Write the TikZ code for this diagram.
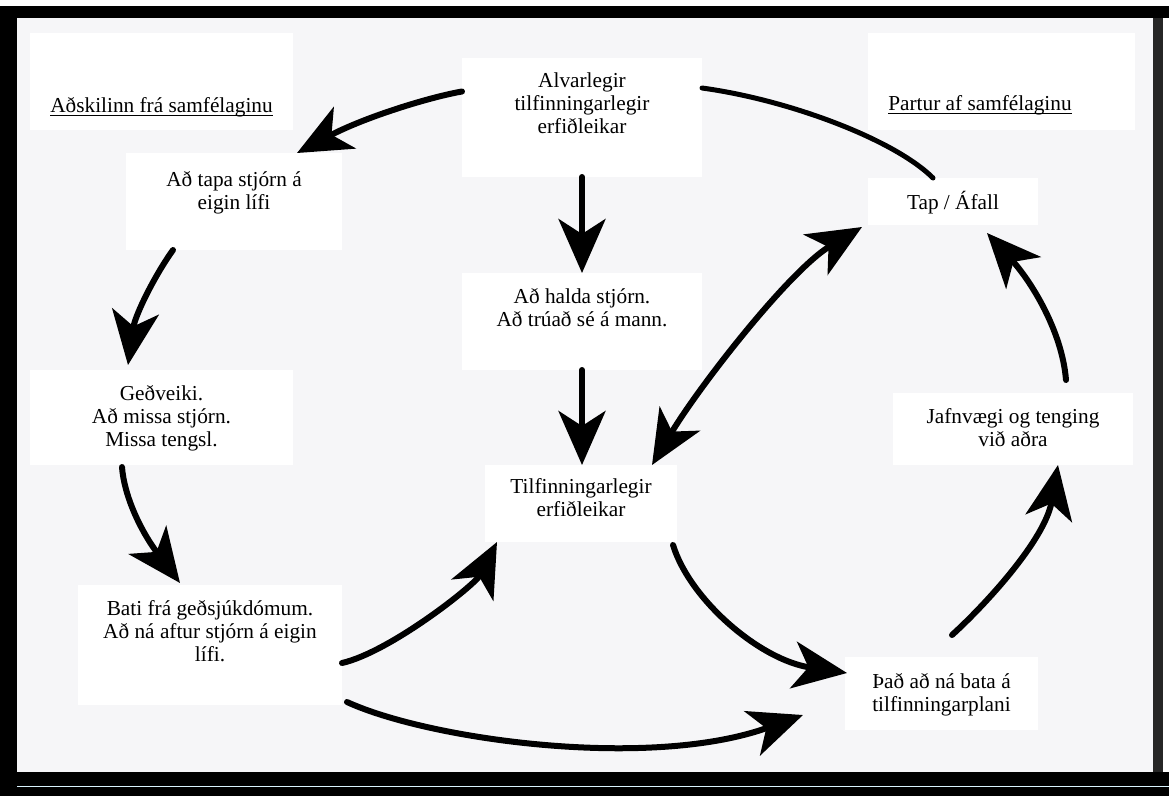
\documentclass[tikz,border=0pt]{standalone}
\usepackage{fontspec}
\setmainfont{Liberation Serif}
\usetikzlibrary{arrows.meta,calc}
\definecolor{paper}{rgb}{0.966,0.966,0.972}
\newcommand\bxt[4]{\parbox[c][#2pt][t]{#1pt}{\centering\vspace*{#3pt}\strut #4}}
\newcommand\myul[1]{\setbox0=\hbox{#1}\rlap{\rule[-4pt]{\wd0}{1.6pt}}\box0}
\begin{document}
\begin{tikzpicture}[x=1pt,y=-1pt,
  box/.style={fill=white, inner sep=0pt, outer sep=0pt, font=\fontsize{21.3}{23}\selectfont},
  arr/.style={line width=6pt, line cap=round, -{Stealth[length=54pt,width=47pt,inset=15pt]}},
  arrboth/.style={line width=6pt, {Stealth[length=54pt,width=47pt,inset=15pt]}-{Stealth[length=54pt,width=47pt,inset=15pt]}},
  arcline/.style={line width=5pt, line cap=round}]
\useasboundingbox (0,0) rectangle (1169,796);
\fill[white] (0,0) rectangle (1169,796);
\fill[paper] (17,18) rectangle (1153,772);
\fill[black] (0,6) rectangle (1169,18);
\fill[black] (0,6) rectangle (17,796);
\fill[black!85] (1153,18) rectangle (1163,772);
\fill[black] (0,772) rectangle (1169,796);
\fill[cyan!15] (17,785.5) rectangle (1169,787);

\node[box] (sep) at (161.5,81.5) {\bxt{263}{97}{63}{\myul{Aðskilinn frá samfélaginu}}};
\node[box] (tapa) at (234,201.5) {\bxt{216}{97}{17}{Að tapa stjórn á\\eigin lífi}};
\node[box] (alv) at (582,117.5) {\bxt{240}{119}{13}{Alvarlegir\\tilfinningarlegir\\erfiðleikar}};
\node[box] (part) at (1001.5,81.5) {\bxt{267}{97}{61}{\hspace*{-43pt}\myul{Partur af samfélaginu}}};
\node[box] (tap) at (953,201.5) {\bxt{170}{47}{13}{Tap / Áfall}};
\node[box] (halda) at (582,321.5) {\bxt{240}{97}{14}{Að halda stjórn.\\Að trúað sé á mann.}};
\node[box] (tilf) at (581,503.5) {\bxt{192}{77}{12}{Tilfinningarlegir\\erfiðleikar}};
\node[box] (ged) at (161.5,417.5) {\bxt{263}{95}{14}{Geðveiki.\\Að missa stjórn.\\Missa tengsl.}};
\node[box] (bati) at (210,645) {\bxt{264}{120}{14}{Bati frá geðsjúkdómum.\\Að ná aftur stjórn á eigin\\lífi.}};
\node[box] (jafn) at (1013,429) {\bxt{240}{72}{14}{Jafnvægi og tenging\\við aðra}};
\node[box] (thad) at (941.5,693.5) {\bxt{193}{73}{15}{Það að ná bata á\\tilfinningarplani}};

\draw[arr] ($(alv.west)+(0,-26)$) .. controls (430,97) and (365,117) .. ($(tapa.north)+(63,0)$);
\draw[arcline] ($(tap.north)+(-20,0)$) .. controls (895,140) and (790,100) .. ($(alv.east)+(0,-29.5)$);
\draw[arr] ($(tapa.south)+(-61,0)$) .. controls (155,275) and (135,315) .. ($(ged.north)+(-33.5,-5)$);
\draw[arr] ($(ged.south)+(-39.5,2)$) .. controls (124,495) and (140,530) .. ($(bati.north)+(-30,-2)$);
\draw[arr] ($(bati.east)+(0,18)$) .. controls (390,652) and (475,585) .. ($(tilf.south west)+(12,0)$);
\draw[arr] ($(bati.south east)+(5,-3)$) .. controls (430,740) and (650,770) .. ($(thad.west)+(-42,21.5)$);
\draw[arr] ($(tilf.south east)+(-4,3)$) .. controls (690,600) and (760,660) .. ($(thad.west)+(2,-20.5)$);
\draw[arr] ($(thad.north)+(10.5,-22)$) .. controls (985,605) and (1045,540) .. ($(jafn.south)+(45,0)$);
\draw[arr] ($(jafn.north)+(53,-13)$) .. controls (1062,330) and (1030,280) .. ($(tap.south)+(34,8)$);
\draw[arrboth] ($(tilf.north)+(71,0)$) .. controls (700,385) and (790,270) .. ($(tap.south west)+(-6,2)$);
\draw[arr] (alv.south) -- (halda.north);
\draw[arr] (halda.south) -- (halda.south |- tilf.north);
\end{tikzpicture}
\end{document}
